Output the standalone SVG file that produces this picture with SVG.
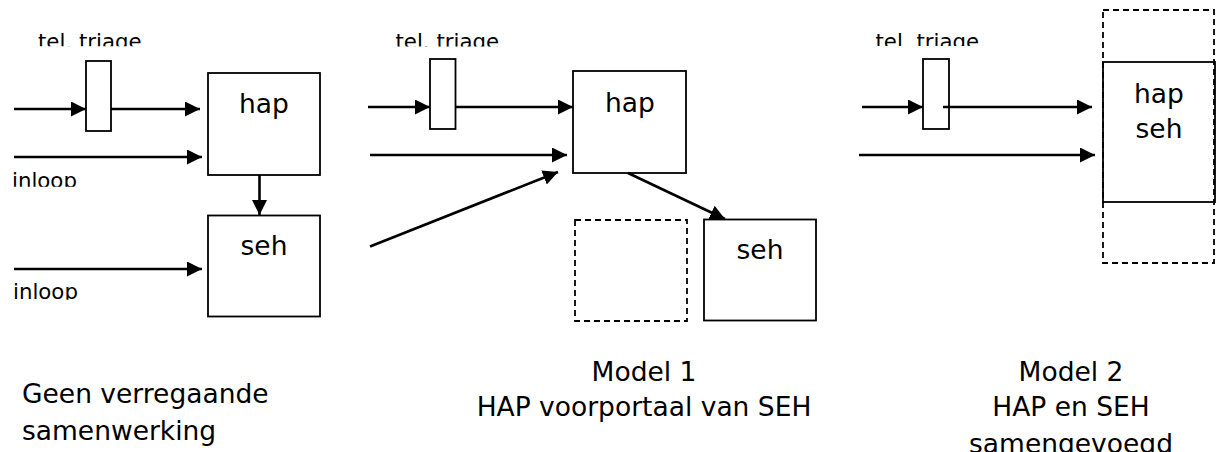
<svg xmlns="http://www.w3.org/2000/svg" width="1216" height="452" viewBox="0 0 1216 452">
<style>
text{font-family:"DejaVu Sans","Liberation Sans",sans-serif;fill:#000}
.lbl{font-size:21.3px}
.big{font-size:26.5px}
.mid{text-anchor:middle}
.box{fill:#fff;stroke:#000;stroke-width:1.8}
.dash{fill:none;stroke:#000;stroke-width:1.8;stroke-dasharray:6 4}
.conn line{stroke:#000;stroke-width:2.6;marker-end:url(#ah)}
</style>
<defs>
<marker id="ah" markerUnits="userSpaceOnUse" markerWidth="17" markerHeight="17" refX="15" refY="7.5" orient="auto" viewBox="0 0 17 17">
<path d="M0,0 L15,7.5 L0,15 z" fill="#000"/>
</marker>
<clipPath id="c1"><rect x="0" y="20" width="360" height="26.3"/></clipPath>
<clipPath id="c2"><rect x="360" y="20" width="300" height="26.6"/></clipPath>
<clipPath id="c3"><rect x="840" y="20" width="240" height="26"/></clipPath>
<clipPath id="c4"><rect x="0" y="160" width="200" height="26.7"/></clipPath>
<clipPath id="c5"><rect x="0" y="270" width="200" height="29.7"/></clipPath>
</defs>

<g id="panel-left">
<g id="triage-left"><rect class="box" x="86" y="61" width="25" height="70"/></g>
<g id="hap-left"><rect class="box" x="208" y="73" width="112" height="102"/><text class="big mid" x="264" y="113">hap</text></g>
<g id="seh-left"><rect class="box" x="208" y="215.5" width="112" height="101"/><text class="big mid" x="264" y="255">seh</text></g>
<text class="lbl" x="38" y="48.5" clip-path="url(#c1)">tel. triage</text>
<text class="lbl" x="12" y="187.5" clip-path="url(#c4)">inloop</text>
<text class="lbl" x="13" y="298.8" clip-path="url(#c5)">inloop</text>
</g>

<g id="panel-mid">
<g id="triage-mid"><rect class="box" x="430" y="59" width="25.5" height="70"/></g>
<g id="hap-mid"><rect class="box" x="573" y="71" width="113" height="102"/><text class="big mid" x="630" y="112">hap</text></g>
<g id="seh-mid"><rect class="box" x="704" y="219.5" width="112" height="101"/><text class="big mid" x="760" y="259">seh</text></g>
<g id="empty-mid"><rect class="dash" x="575" y="220" width="112" height="101"/></g>
<text class="lbl" x="395.5" y="49" clip-path="url(#c2)">tel. triage</text>
</g>

<g id="panel-right">
<g id="triage-right"><rect class="box" x="923" y="59" width="26" height="70"/></g>
<g id="hapseh-right"><rect class="box" x="1103" y="62" width="112" height="140"/><text class="big mid" x="1159" y="103">hap</text><text class="big mid" x="1159" y="138">seh</text></g>
<g id="frame-right"><rect class="dash" x="1103" y="10" width="111" height="253"/></g>
<text class="lbl" x="875.5" y="48.5" clip-path="url(#c3)">tel. triage</text>
</g>

<g id="connectors" class="conn">
<line x1="14" y1="109" x2="86" y2="109"/>
<line x1="111" y1="109" x2="200" y2="109"/>
<line x1="14" y1="157" x2="202" y2="157"/>
<line x1="259.5" y1="175" x2="259.5" y2="215"/>
<line x1="14" y1="269" x2="202" y2="269"/>
<line x1="368" y1="107" x2="430" y2="107"/>
<line x1="456" y1="107" x2="573" y2="107"/>
<line x1="370" y1="155" x2="567" y2="155"/>
<line x1="370" y1="246.5" x2="558" y2="172"/>
<line x1="628" y1="173" x2="725" y2="219"/>
<line x1="862" y1="107" x2="923" y2="107"/>
<line x1="943" y1="107" x2="1092" y2="107"/>
<line x1="859" y1="155" x2="1095" y2="155"/>
</g>

<g id="captions">
<text class="big" x="22" y="403">Geen verregaande</text>
<text class="big" x="22" y="440">samenwerking</text>
<text class="big mid" x="644" y="381">Model 1</text>
<text class="big mid" x="644" y="416">HAP voorportaal van SEH</text>
<text class="big mid" x="1071" y="381">Model 2</text>
<text class="big mid" x="1071" y="416">HAP en SEH</text>
<text class="big mid" x="1071" y="453">samengevoegd</text>
</g>
</svg>
